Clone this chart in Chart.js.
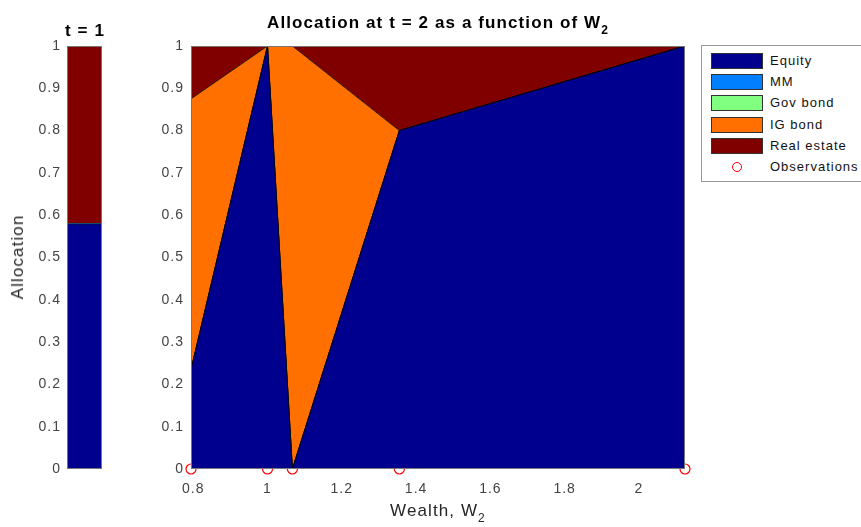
<!DOCTYPE html>
<html>
<head>
<meta charset="utf-8">
<script src="https://cdn.jsdelivr.net/npm/chart.js@4.4.1/dist/chart.umd.min.js"></script>
<style>
  body { margin: 0; background: #fff; font-family: "Liberation Sans", Arial, sans-serif; }
  #wrap { position: relative; width: 861px; height: 527px; overflow: hidden; }
  canvas { position: absolute; top: 0; left: 0; }
  .lbl { position: absolute; color: #000; white-space: nowrap; line-height: 20px; }
  .ttl { font-weight: bold; font-size: 17px; letter-spacing: 1.1px; transform: translateX(-50%); }
  sub { font-size: 12px; vertical-align: -6px; line-height: 0; }
  #legend { position: absolute; left: 701px; top: 45px; width: 170px; height: 137px;
            border: 1px solid #999; background: #fff; box-sizing: border-box; }
  .row { position: absolute; left: 9px; height: 16px; font-size: 13px; color: #111; white-space: nowrap; }
  .sw { position: absolute; left: 0; top: 0; width: 52px; height: 16px; border: 1px solid #333; box-sizing: border-box; }
  .row span { position: absolute; left: 59px; top: 0; line-height: 16px; letter-spacing: 1px; }
  .circ { position: absolute; left: 21px; top: 3px; width: 10px; height: 10px; border: 1.3px solid #ff0000;
          border-radius: 50%; box-sizing: border-box; }
</style>
</head>
<body>
<div id="wrap">
  <canvas id="t1" width="130" height="527"></canvas>
  <canvas id="main" width="861" height="527"></canvas>
  <div class="lbl ttl" style="left:85px;top:21px;">t = 1</div>
  <div class="lbl ttl" style="left:438px;top:13px;">Allocation at t = 2 as a function of W<sub>2</sub></div>
  <div class="lbl" style="left:438px;top:501px;font-size:17px;letter-spacing:1.1px;transform:translateX(-50%);color:#262626;">Wealth, W<sub>2</sub></div>
  <div class="lbl" style="left:18px;top:257px;font-size:17px;letter-spacing:1.1px;color:#262626;transform:translate(-50%,-50%) rotate(-90deg);">Allocation</div>
  <div id="legend"></div>
</div>
<script>
// assets and colours
const assets = ['Equity', 'MM', 'Gov bond', 'IG bond', 'Real estate'];
const colors = ['#00008f', '#0080ff', '#80ff80', '#ff7000', '#800000'];

// t = 1 allocation
const t1Values = [0.58, 0, 0, 0, 0.42];

// t = 2 allocation at each observed wealth level
const wealth     = [0.794, 1.0, 1.067, 1.355, 2.124];
const equity     = [0.235, 1.0, 0.0, 0.80, 1.0];
const mm         = [0, 0, 0, 0, 0];
const govBond    = [0, 0, 0, 0, 0];
const igBond     = [0.64, 0, 1.0, 0, 0];
const realEstate = [0.125, 0, 0, 0.20, 0];

const xTicks = [0.8, 1, 1.2, 1.4, 1.6, 1.8, 2];
const yTicks = [0, 0.1, 0.2, 0.3, 0.4, 0.5, 0.6, 0.7, 0.8, 0.9, 1];

const tickFont = { family: '"Liberation Sans", Arial, sans-serif', size: 14 };
const tickColor = '#444';
const fmt = v => String(+(+v).toFixed(2));

// box round the axes, like matlab; also the wider letter spacing of the ticks
const boxPlugin = {
  id: 'box',
  beforeDraw(chart) { chart.ctx.letterSpacing = '1px'; },
  afterDraw(chart) {
    const a = chart.chartArea, c = chart.ctx;
    c.save();
    c.strokeStyle = '#777';
    c.lineWidth = 1;
    c.strokeRect(Math.round(a.left) + 0.5, Math.round(a.top) + 0.5,
                 Math.round(a.right - a.left) - 1, Math.round(a.bottom - a.top) - 1);
    c.restore();
  }
};

function yScale(width, pad) {
  return {
    min: 0, max: 1, stacked: true,
    afterBuildTicks: s => { s.ticks = yTicks.map(v => ({ value: v })); },
    afterFit: s => { s.width = width; },
    grid: { display: false, drawTicks: false },
    border: { display: false },
    ticks: { font: tickFont, color: tickColor, padding: pad, callback: fmt }
  };
}

// left panel: single stacked bar
new Chart(document.getElementById('t1'), {
  type: 'bar',
  data: {
    labels: ['t = 1'],
    datasets: assets.map((a, i) => ({
      label: a, data: [t1Values[i]], backgroundColor: colors[i],
      borderColor: '#111', borderWidth: { top: 1, bottom: 0, left: 0, right: 0 },
      barPercentage: 1, categoryPercentage: 1
    }))
  },
  options: {
    responsive: false, animation: false,
    layout: { padding: { left: 27, right: 28, top: 46, bottom: 58 } },
    plugins: { legend: { display: false }, tooltip: { enabled: false } },
    scales: {
      x: { stacked: true, display: false },
      y: yScale(40, 6)
    }
  },
  plugins: [boxPlugin]
});

// main panel: stacked areas, cumulative tops built from the series
const series = [equity, mm, govBond, igBond, realEstate];
let running = wealth.map(() => 0);
const areaSets = series.map((s, i) => {
  running = running.map((r, j) => r + s[j]);
  return {
    label: assets[i],
    data: wealth.map((w, j) => ({ x: w, y: running[j] })),
    backgroundColor: colors[i],
    borderColor: '#000',
    borderWidth: 0.8,
    pointRadius: 0,
    tension: 0,
    fill: i === 0 ? 'origin' : '-1'
  };
});

new Chart(document.getElementById('main'), {
  type: 'line',
  data: {
    datasets: [...areaSets, {
      label: 'Observations',
      data: wealth.map(w => ({ x: w, y: 0 })),
      showLine: false,
      pointRadius: 5,
      pointStyle: 'circle',
      pointBackgroundColor: 'rgba(0,0,0,0)',
      pointBorderColor: '#ff0000',
      pointBorderWidth: 1.2,
      clip: false,
      fill: false
    }]
  },
  options: {
    responsive: false, animation: false,
    layout: { padding: { left: 151, right: 176, top: 46, bottom: 28 } },
    plugins: { legend: { display: false }, tooltip: { enabled: false } },
    scales: {
      x: {
        type: 'linear', min: 0.794, max: 2.124,
        afterBuildTicks: s => { s.ticks = xTicks.map(v => ({ value: v })); },
        afterFit: s => { s.height = 30; },
        grid: { display: false, drawTicks: false },
        border: { display: false },
        ticks: { font: tickFont, color: tickColor, padding: 12, callback: fmt, maxRotation: 0 }
      },
      y: Object.assign(yScale(40, 7), { stacked: false })
    }
  },
  plugins: [boxPlugin]
});

// legend
const lg = document.getElementById('legend');
assets.concat(['Observations']).forEach((name, i) => {
  const row = document.createElement('div');
  row.className = 'row';
  row.style.top = (7 + i * 21.2) + 'px';
  row.innerHTML = (i < assets.length
    ? '<div class="sw" style="background:' + colors[i] + '"></div>'
    : '<div class="circ"></div>') + '<span>' + name + '</span>';
  lg.appendChild(row);
});
</script>
</body>
</html>
